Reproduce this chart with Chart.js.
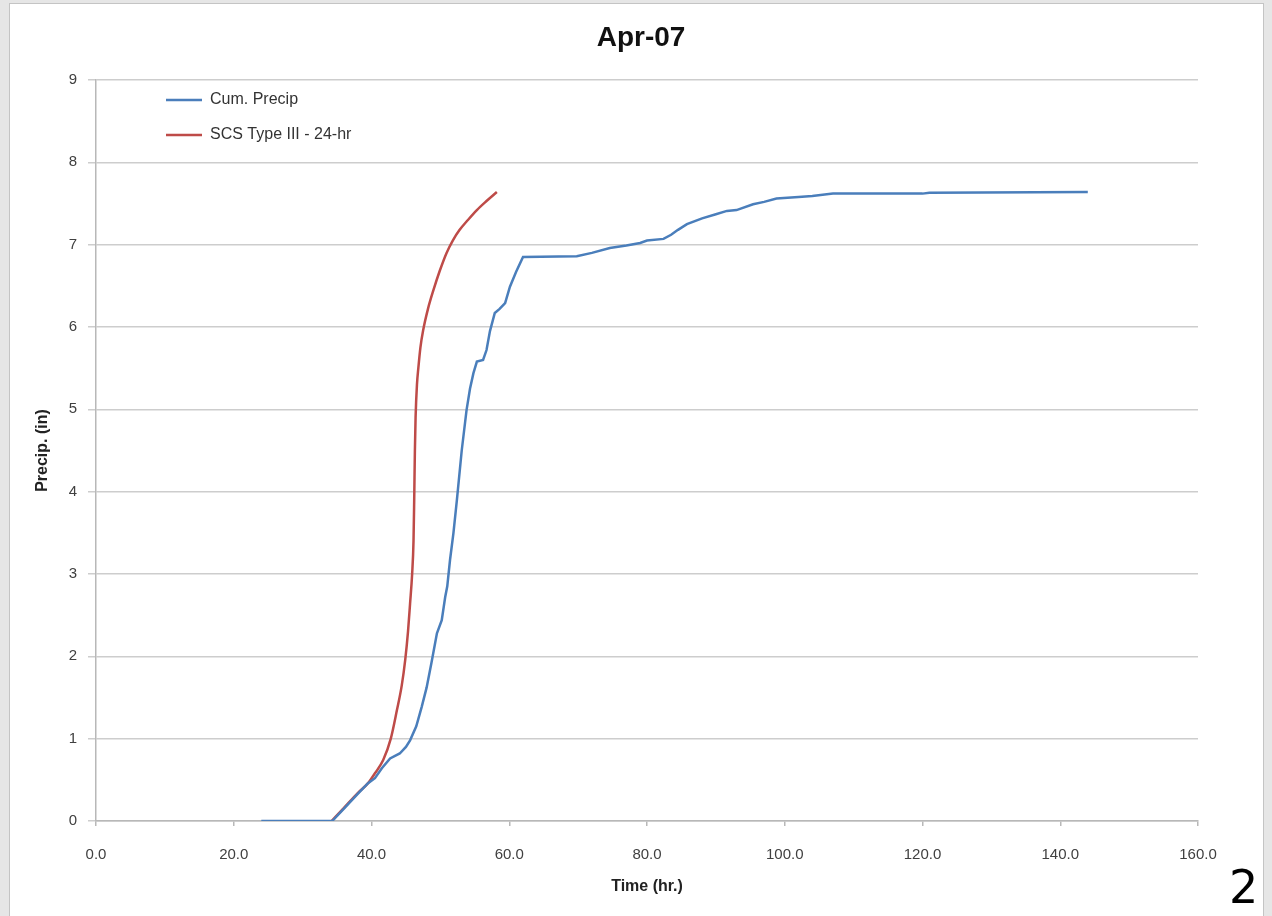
<!DOCTYPE html>
<html>
<head>
<meta charset="utf-8">
<script src="https://cdn.jsdelivr.net/npm/chart.js@4.4.1/dist/chart.umd.min.js"></script>
<style>
  html, body { margin: 0; padding: 0; }
  body { width: 1272px; height: 916px; background: #e6e6e6; position: relative; overflow: hidden; }
  #panel { position: absolute; left: 9px; top: 3px; width: 1253px; height: 920px; background: #ffffff; border: 1px solid #c4c4c4; }
  #chart { position: absolute; left: 0; top: 0; }
  #pagenum { position: absolute; left: 1229px; top: 859px; font-family: "DejaVu Sans", sans-serif; font-size: 46px; color: #000; line-height: 56px; }
</style>
</head>
<body>
<div id="panel"></div>
<canvas id="chart" width="1272" height="916"></canvas>
<div id="pagenum">2</div>
<script>
// ---- data ----
const chartTitle = "Apr-07";
const seriesNames = ["Cum. Precip", "SCS Type III - 24-hr"];
const xAxisTitle = "Time (hr.)";
const yAxisTitle = "Precip. (in)";
const xTicks = [0, 20, 40, 60, 80, 100, 120, 140, 160];
const yTicks = [0, 1, 2, 3, 4, 5, 6, 7, 8, 9];

const timeBlue = [24.0, 34.3, 36.0, 38.0, 39.5, 40.5, 41.5, 42.7, 44.1, 45.0, 45.6, 46.5, 47.3, 48.0, 48.7, 49.5, 50.2, 50.7, 51.0, 51.4, 51.9, 52.4, 53.1, 53.8, 54.3, 54.8, 55.3, 56.2, 56.7, 57.2, 57.9, 58.6, 59.4, 60.1, 61.0, 62.0, 69.8, 72.0, 74.6, 77.0, 79.0, 80.0, 82.4, 83.5, 84.5, 85.8, 88.0, 90.0, 91.6, 93.0, 95.4, 97.0, 98.8, 102.0, 104.0, 107.0, 120.0, 121.0, 144.0];
const precipBlue = [0.00, 0.00, 0.15, 0.33, 0.46, 0.52, 0.64, 0.76, 0.82, 0.90, 0.98, 1.15, 1.39, 1.62, 1.92, 2.28, 2.44, 2.72, 2.85, 3.17, 3.50, 3.90, 4.50, 4.99, 5.25, 5.44, 5.58, 5.60, 5.72, 5.95, 6.17, 6.22, 6.29, 6.49, 6.67, 6.85, 6.86, 6.90, 6.96, 6.99, 7.02, 7.05, 7.07, 7.12, 7.18, 7.25, 7.32, 7.37, 7.41, 7.42, 7.49, 7.52, 7.56, 7.58, 7.59, 7.62, 7.62, 7.63, 7.64];

const timeRed = [34.2, 36.0, 38.0, 39.5, 40.5, 41.7, 42.8, 43.7, 44.4, 44.9, 45.3, 45.6, 45.9, 46.1, 46.2, 46.3, 46.4, 46.6, 46.8, 47.1, 47.5, 48.2, 49.0, 49.9, 50.9, 51.8, 52.8, 54.0, 55.3, 56.7, 58.2];
const precipRed = [0.00, 0.16, 0.34, 0.46, 0.58, 0.74, 1.00, 1.35, 1.65, 1.96, 2.30, 2.64, 3.00, 3.40, 3.90, 4.50, 4.90, 5.30, 5.50, 5.75, 5.96, 6.22, 6.45, 6.68, 6.90, 7.05, 7.18, 7.30, 7.42, 7.53, 7.64];

const blueColor = "#4a7ebb";
const redColor = "#be4b48";

const toPoints = (xs, ys) => xs.map((x, i) => ({ x: x, y: ys[i] }));

const placeBoxes = {
  id: "placeBoxes",
  afterLayout(chart) {
    const t = chart.titleBlock;
    if (t) { t.left = 0; t.right = 1282; }
    const lg = chart.legend;
    if (lg) {
      const pad = lg.options.labels.padding;
      lg.left = 166 - pad;
      lg.top = 92 - pad;
    }
  }
};

new Chart(document.getElementById("chart"), {
  type: "line",
  data: {
    datasets: [
      {
        label: seriesNames[0],
        data: toPoints(timeBlue, precipBlue),
        borderColor: blueColor,
        backgroundColor: blueColor,
        borderWidth: 2.5,
        pointRadius: 0,
        tension: 0,
        fill: false
      },
      {
        label: seriesNames[1],
        data: toPoints(timeRed, precipRed),
        borderColor: redColor,
        backgroundColor: redColor,
        borderWidth: 2.5,
        pointRadius: 0,
        cubicInterpolationMode: "monotone",
        fill: false
      }
    ]
  },
  options: {
    responsive: false,
    animation: false,
    devicePixelRatio: 1,
    layout: { padding: { left: 20, right: 74, top: 0, bottom: 19.4 } },
    plugins: {
      title: {
        display: true,
        text: chartTitle,
        color: "#111",
        font: { family: "Liberation Sans", size: 28, weight: "bold" },
        padding: { top: 21.2, bottom: 25.2 }
      },
      legend: {
        display: true,
        position: "chartArea",
        align: "start",
        labels: {
          usePointStyle: true,
          pointStyle: "line",
          pointStyleWidth: 36,
          boxHeight: 16,
          padding: 19,
          color: "#333",
          font: { family: "Liberation Sans", size: 16 }
        }
      },
      tooltip: { enabled: false }
    },
    scales: {
      x: {
        type: "linear",
        min: xTicks[0],
        max: xTicks[xTicks.length - 1],
        afterBuildTicks: (s) => { s.ticks = xTicks.map(v => ({ value: v })); },
        afterFit: (s) => { s.height = 75.6; },
        ticks: {
          padding: 20,
          maxRotation: 0,
          color: "#404040",
          font: { family: "Liberation Sans", size: 15 },
          callback: (v) => Number(v).toFixed(1)
        },
        grid: { drawOnChartArea: false, drawTicks: true, tickLength: 5, color: "#b8b8b8", lineWidth: 1.5 },
        border: { display: true, color: "#b8b8b8", width: 1.5 },
        title: {
          display: true,
          text: xAxisTitle,
          color: "#222",
          font: { family: "Liberation Sans", size: 16, weight: "bold" },
          padding: { top: 0, bottom: 0 }
        }
      },
      y: {
        type: "linear",
        min: yTicks[0],
        max: yTicks[yTicks.length - 1],
        afterBuildTicks: (s) => { s.ticks = yTicks.map(v => ({ value: v })); },
        afterFit: (s) => { s.width = 76; },
        ticks: {
          padding: 11,
          color: "#404040",
          font: { family: "Liberation Sans", size: 15 },
          callback: (v) => String(v)
        },
        grid: { drawOnChartArea: true, drawTicks: true, tickLength: 8, color: "#cdcdcd", lineWidth: 1.5 },
        border: { display: true, color: "#b8b8b8", width: 1.5 },
        title: {
          display: true,
          text: yAxisTitle,
          color: "#222",
          font: { family: "Liberation Sans", size: 16, weight: "bold" },
          padding: { top: 13.4, bottom: 0 }
        }
      }
    }
  },
  plugins: [placeBoxes]
});
</script>
</body>
</html>
